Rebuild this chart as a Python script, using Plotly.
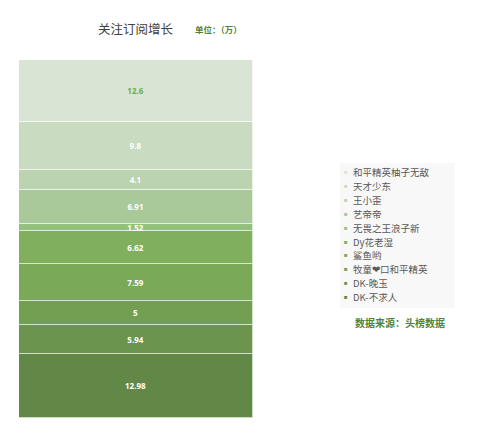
import plotly.graph_objects as go

# series listed from bottom of the stack to the top
names = ['DK-不求人', 'DK-晚玉', '牧童❤口和平精英', '鲨鱼哟', 'Dy花老湿',
         '无畏之王浪子新', '艺帝帝', '王小歪', '天才少东', '和平精英柚子无敌']
values = [12.98, 5.94, 5, 7.59, 6.62, 1.52, 6.91, 4.1, 9.8, 12.6]
colors = ['#628848', '#6b944e', '#739f53', '#7aa958', '#80b05d',
          '#94c07e', '#a9c99a', '#bcd3b0', '#c9dbc0', '#d9e4d4']
label_colors = ['white'] * 9 + ['#70ad47']
category = ['关注订阅增长']

# plot area is 478 px wide (l=11, r=10) and 358 px tall; page body adds 8 px
def px(sx):
    return (sx - 19) / 478

def py(sy):
    return (418 - sy) / 358

fig = go.Figure()
for name, val, col, lc in zip(names, values, colors, label_colors):
    fig.add_trace(go.Bar(
        x=category, y=[val], name=name,
        marker=dict(color=col, line=dict(color='rgba(255,255,255,0.7)', width=1)),
        text=[str(val)], textposition='inside', insidetextanchor='middle',
        textangle=0,
        textfont=dict(color=lc, size=8, family='Noto Sans', weight='bold'),
    ))

annotations = [
    dict(text='关注订阅增长', x=px(136), y=py(28), xanchor='center', yanchor='middle',
         font=dict(size=12.5, color='#404040', family='Noto Sans CJK SC')),
    dict(text='单位：（万）', x=px(218), y=py(29), xanchor='center', yanchor='middle',
         font=dict(size=8.5, color='#548235', family='Noto Sans CJK SC', weight='bold')),
    dict(text='数据来源：头榜数据', x=px(353), y=py(322), xanchor='left', yanchor='middle',
         font=dict(size=10, color='#548235', family='Noto Sans CJK SC', weight='bold')),
]

# hand-built legend, top entry is the top of the stack
for i, (name, col) in enumerate(zip(names[::-1], colors[::-1])):
    sy = 172 + i * 13.9
    annotations.append(dict(text='■', x=px(346), y=py(sy), xanchor='center', yanchor='middle',
                            font=dict(size=6, color=col)))
    annotations.append(dict(text=name, x=px(351), y=py(sy), xanchor='left', yanchor='middle',
                            font=dict(size=9.5, color='#595959', family='Noto Sans CJK SC')))
for a in annotations:
    a.update(xref='paper', yref='paper', showarrow=False)

fig.update_layout(
    width=499, height=435,
    margin=dict(l=11, r=10, t=52, b=25),
    barmode='stack', barnorm='percent', bargap=0,
    plot_bgcolor='white', paper_bgcolor='white',
    uniformtext=dict(minsize=8, mode='show'),
    xaxis=dict(domain=[0, 234 / 478], visible=False),
    yaxis=dict(range=[0, 100], visible=False),
    showlegend=False,
    shapes=[dict(type='rect', xref='paper', yref='paper',
                 x0=px(340), x1=px(455), y0=py(308), y1=py(163),
                 fillcolor='#f8f8f8', line=dict(width=0), layer='below')],
    annotations=annotations,
)

fig.write_html('out.html')
